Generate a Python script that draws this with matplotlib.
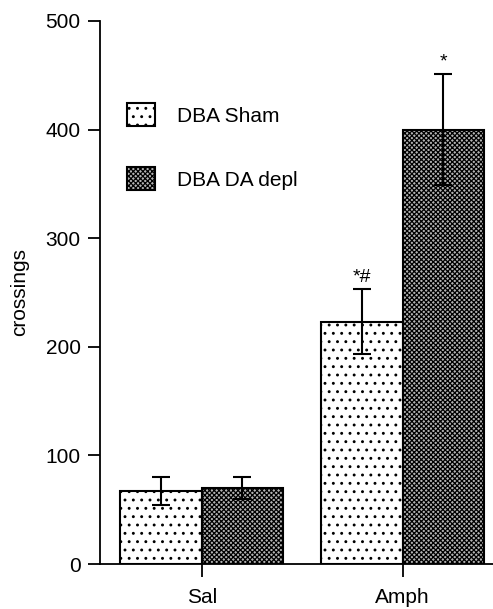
import matplotlib
matplotlib.use("Agg")
import matplotlib.pyplot as plt
import numpy as np

plt.rcParams['font.family'] = ['Liberation Sans', 'DejaVu Sans']
plt.rcParams['hatch.linewidth'] = 0.9

groups = ["Sal", "Amph"]
series = ["DBA Sham", "DBA DA depl"]
sham_means = [67, 223]
sham_err = [13, 30]
depl_means = [70, 400]
depl_err = [10, 51]
sham_marks = ["", "*#"]
depl_marks = ["", "*"]
yticks = [0, 100, 200, 300, 400, 500]

W, H = 493, 609
fig = plt.figure(figsize=(W / 100, H / 100), dpi=100)
ax = fig.add_axes([100 / W, 1 - 564 / H, (493 - 100) / W, (564 - 21) / H])

x = np.arange(len(groups))
bw = 0.405

ax.bar(x - bw / 2, sham_means, bw, color='white', edgecolor='black',
       linewidth=1.5, hatch='..', label=series[0], zorder=2)
ax.bar(x + bw / 2, depl_means, bw, color='#b4b4b4', edgecolor='black',
       linewidth=1.5, hatch='xxxxxxx', label=series[1], zorder=2)

for xs, m, e in [(x - bw / 2, sham_means, sham_err), (x + bw / 2, depl_means, depl_err)]:
    ax.errorbar(xs, m, yerr=e, fmt='none', ecolor='black', elinewidth=1.5,
                capsize=6.5, capthick=1.5, zorder=3)

for xs, m, e, marks in [(x - bw / 2, sham_means, sham_err, sham_marks),
                        (x + bw / 2, depl_means, depl_err, depl_marks)]:
    for xi, mi, ei, t in zip(xs, m, e, marks):
        if t:
            ax.text(xi, mi + ei + 3, t, ha='center', va='bottom', fontsize=14)

ax.set_xlim(-0.507, 1.45)
ax.set_ylim(0, 500)
ax.set_yticks(yticks)
ax.set_xticks(x)
ax.set_xticklabels(groups)
ax.set_ylabel("crossings", fontsize=15, labelpad=12)
ax.spines['top'].set_visible(False)
ax.spines['right'].set_visible(False)
ax.spines['left'].set_linewidth(1.3)
ax.spines['bottom'].set_linewidth(1.3)
ax.tick_params(axis='y', length=9, width=1.3, labelsize=15, pad=5)
ax.tick_params(axis='x', length=9.5, width=1.3, labelsize=15, pad=8)

ax.legend(loc='upper left', bbox_to_anchor=(127 / W, 1 - 103 / H),
          bbox_transform=fig.transFigure, frameon=False, fontsize=15,
          handlelength=1.35, handleheight=1.35, labelspacing=1.95,
          handletextpad=1.05, borderpad=0, borderaxespad=0)

fig.savefig("out.png", dpi=100)
